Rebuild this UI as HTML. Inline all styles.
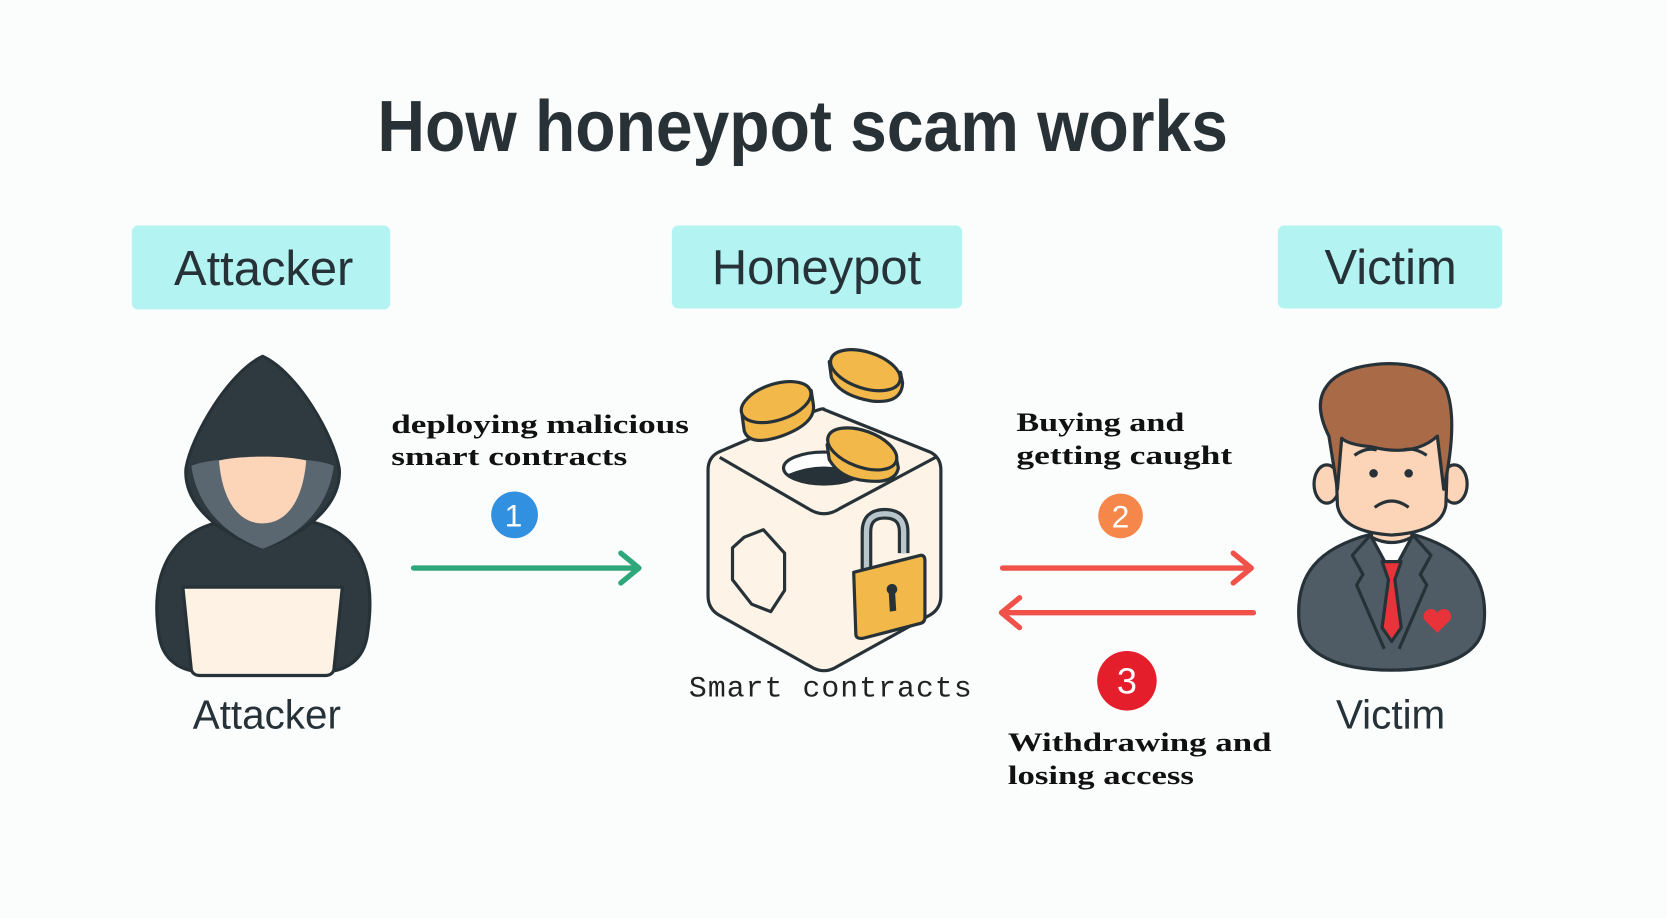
<!DOCTYPE html>
<html><head><meta charset="utf-8"><style>
html,body{margin:0;padding:0;background:#fbfcfc;}
svg{display:block}
</style></head><body>
<svg width="1667" height="918" viewBox="0 0 1568 863" preserveAspectRatio="none" xmlns="http://www.w3.org/2000/svg">
<rect width="1568" height="863" fill="#fbfcfc"/>
<text x="355" y="142" font-family="Liberation Sans, sans-serif" font-size="68" font-weight="bold" fill="#283135" textLength="800" lengthAdjust="spacingAndGlyphs">How honeypot scam works</text>

<rect x="124" y="212" width="243" height="79" rx="6" fill="#b3f4f2"/>
<rect x="632" y="212" width="273" height="78" rx="6" fill="#b3f4f2"/>
<rect x="1202" y="212" width="211" height="78" rx="6" fill="#b3f4f2"/>
<g font-family="Liberation Sans, sans-serif" font-size="46" fill="#263238" text-anchor="middle">
<text x="248" y="268">Attacker</text>
<text x="768" y="267">Honeypot</text>
<text x="1308" y="267">Victim</text>
<text x="251" y="685" font-size="38">Attacker</text>
<text x="1308" y="685" font-size="38">Victim</text>
</g>

<!-- attacker -->
<g stroke="#263238" stroke-width="3" stroke-linejoin="round">
<path d="M150,600 C140,540 160,500 210,490 L290,490 C340,500 355,540 345,600 C340,625 320,632 300,632 L195,632 C175,632 155,625 150,600Z" fill="#2e3a40"/>
<path d="M247,335 C215,350 180,410 175,440 C172,470 200,500 247,515 C294,500 322,470 319,440 C314,410 280,350 247,335Z" fill="#2e3a40"/>
<path d="M180,438 C200,428 294,428 314,438 C310,470 290,500 247,516 C205,500 184,470 180,438Z" fill="#5b6770" stroke="none"/>
<path d="M206,433 C225,428 270,428 288,433 C285,470 270,492 247,492 C224,492 209,470 206,433Z" fill="#fcd5b8" stroke="none"/>
<path d="M172,552 L322,552 L314,630 C313,633 310,635 306,635 L188,635 C184,635 181,633 180,630Z" fill="#fdf2e3"/>
</g>

<!-- labels -->
<g font-family="Liberation Serif, serif" font-weight="bold" font-size="25" fill="#111">
<text x="368" y="407" textLength="280" lengthAdjust="spacingAndGlyphs">deploying malicious</text>
<text x="368" y="437" textLength="222" lengthAdjust="spacingAndGlyphs">smart contracts</text>
<text x="956" y="405" textLength="158" lengthAdjust="spacingAndGlyphs">Buying and</text>
<text x="956" y="436" textLength="203" lengthAdjust="spacingAndGlyphs">getting caught</text>
<text x="948" y="706" textLength="248" lengthAdjust="spacingAndGlyphs">Withdrawing and</text>
<text x="948" y="737" textLength="175" lengthAdjust="spacingAndGlyphs">losing access</text>
</g>
<g font-family="Liberation Sans, sans-serif" font-size="30" fill="#fff" text-anchor="middle">
<circle cx="484" cy="484" r="22" fill="#3290e0"/><text x="483" y="495">1</text>
<circle cx="1054" cy="485" r="21" fill="#f5874a"/><text x="1054" y="496">2</text>
<circle cx="1060" cy="640" r="28" fill="#e41e2a"/><text x="1060" y="652" font-size="34">3</text>
</g>

<!-- arrows -->
<g fill="none" stroke-width="5" stroke-linecap="round" stroke-linejoin="round">
<path d="M389,534 L600,534 M584,520 L601,534 L584,548" stroke="#2ea77a"/>
<path d="M943,534 L1176,534 M1160,520 L1177,534 L1160,548" stroke="#f0524a"/>
<path d="M1179,576 L943,576 M959,562 L942,576 L959,590" stroke="#f0524a"/>
</g>

<!-- cube -->
<g stroke="#263238" stroke-width="3" stroke-linejoin="round">
<path d="M775,385 L875,425 Q885,430 885,442 L885,560 Q885,572 875,578 L785,628 Q775,633 765,628 L676,578 Q666,572 666,560 L666,442 Q666,430 676,425 L765,387 Q775,383 775,385Z" fill="#fdf3e6"/>
<path d="M677,430 L760,478 Q775,488 790,478 L880,430" fill="none"/>
<ellipse cx="775" cy="440" rx="38" ry="15" fill="#fff"/>
<path d="M742,447 Q775,433 808,447 Q775,462 742,447Z" fill="#263238"/>
<path d="M700,505 L718,498 L738,520 L738,555 L725,575 L707,568 L689,545 L689,515Z" fill="#fdf3e6"/>
<path d="M815,535 L815,500 Q815,483 832,483 Q850,483 850,500 L850,520" fill="none" stroke="#263238" stroke-width="11"/>
<path d="M815,535 L815,500 Q815,483 832,483 Q850,483 850,500 L850,520" fill="none" stroke="#b8c6cc" stroke-width="5"/>
<path d="M803,538 L866,522 Q870,522 870,527 L870,580 Q870,585 866,586 L812,600 Q805,601 805,596 Z" fill="#f3b84a"/>
<path d="M836,550 a5,5 0 1,1 6,8 L843,574 L837,575 L836,558 a5,5 0 0,1 0,-8Z" fill="#263238" stroke="none"/>
<g fill="#f3b84a">
<path d="M698,390 L700,405 Q705,420 735,410 Q768,398 765,380 L763,367 Z"/>
<ellipse cx="730" cy="378" rx="34" ry="17" transform="rotate(-18 730 378)"/>
<path d="M780,340 L782,355 Q790,372 820,377 Q848,380 849,360 L847,350 Z"/>
<ellipse cx="814" cy="348" rx="34" ry="17" transform="rotate(18 814 348)"/>
<path d="M778,418 L780,432 Q790,450 815,452 Q842,455 845,440 L843,430 Z"/>
<ellipse cx="811" cy="422" rx="34" ry="17" transform="rotate(20 811 422)"/>
</g>
</g>
<text x="648" y="655" font-family="Liberation Mono, monospace" font-size="28" fill="#222" textLength="266" lengthAdjust="spacing">Smart contracts</text>

<!-- victim -->
<g stroke="#263238" stroke-width="3" stroke-linejoin="round">
<path d="M1222,585 C1218,540 1240,515 1290,502 L1328,502 C1375,515 1400,540 1396,585 C1394,615 1360,630 1309,630 C1258,630 1225,615 1222,585Z" fill="#4f5b65"/>
<path d="M1289,503 L1309,540 L1329,503Z" fill="#fff"/>
<path d="M1300,528 L1318,528 L1312,545 L1318,590 L1309,603 L1300,590 L1306,545Z" fill="#e8333a"/>
<path d="M1289,503 L1272,522 L1282,540 L1276,550 L1302,610 M1329,503 L1346,522 L1336,540 L1342,550 L1316,610" fill="none"/>
<path d="M1290,480 L1290,505 Q1309,515 1328,505 L1328,480Z" fill="#fcd5b8"/>
<ellipse cx="1248" cy="455" rx="12" ry="18" fill="#fcd5b8"/>
<ellipse cx="1368" cy="455" rx="12" ry="18" fill="#fcd5b8"/>
<path d="M1255,390 L1258,475 Q1262,500 1309,503 Q1356,500 1360,475 L1363,390Z" fill="#fcd5b8"/>
<path d="M1258,460 L1250,410 Q1235,380 1248,363 Q1260,345 1300,342 Q1345,340 1360,365 Q1372,395 1358,460 L1352,410 Q1330,430 1290,420 Q1268,418 1262,412Z" fill="#a96a48"/>
<path d="M1274,428 Q1285,420 1295,423 M1320,423 Q1330,420 1342,428 M1293,477 Q1309,465 1325,477" fill="none"/>
</g>
<circle cx="1292" cy="445" r="4" fill="#263238"/><circle cx="1325" cy="445" r="4" fill="#263238"/>
<path d="M1352,595 L1340,583 a6,6 0 0,1 12,-7 a6,6 0 0,1 12,7Z" fill="#e8333a"/>
</svg>
</body></html>
